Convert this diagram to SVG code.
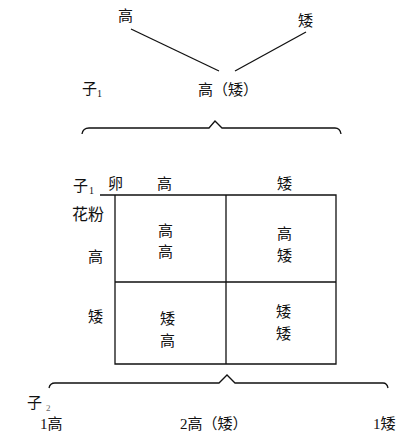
<svg xmlns="http://www.w3.org/2000/svg" width="412" height="436" viewBox="0 0 412 436">
<style>
text{font-family:"Liberation Serif","Noto Sans CJK SC",serif;font-size:15px;fill:#111}
.sub{font-size:10px}
.ln{stroke:#111;stroke-width:1.3;fill:none}
</style>
<rect width="412" height="436" fill="#fff"/>
<g id="parents">
<text x="118" y="21">高</text>
<text x="298" y="26">矮</text>
</g>
<g id="f1">
<text x="82" y="94">子</text><text class="sub" x="97" y="97">1</text>
<text x="198" y="95">高（矮）</text>
</g>
<g id="connectors">
<line class="ln" x1="131" y1="29" x2="219" y2="71"/>
<line class="ln" x1="306" y1="32" x2="235" y2="71"/>
<path class="ln" d="M82,134 Q83,128 89,128 L209,128 L215,121 L222,128 L335,128 Q340,128 341,134"/>
<path class="ln" d="M49,388 Q50,383 55,383 L219,383 L227,375 L235,383 L383,383 Q387,383 388,388"/>
</g>
<g id="grid">
<path class="ln" d="M100,195 L336,195 L336,364 L115,364 L115,195 M226,195 L226,364 M115,282 L336,282"/>
</g>
<g id="headers">
<text x="73" y="191">子</text><text class="sub" x="89" y="194">1</text>
<text x="108" y="189">卵</text>
<text x="157" y="189">高</text>
<text x="277" y="189">矮</text>
<text x="72" y="220" style="font-size:16px">花粉</text>
<text x="88" y="262">高</text>
<text x="88" y="322">矮</text>
</g>
<g id="cells">
<text x="158" y="236">高</text><text x="158" y="257">高</text>
<text x="277" y="239">高</text><text x="277" y="261">矮</text>
<text x="160" y="324">矮</text><text x="160" y="346">高</text>
<text x="276" y="317">矮</text><text x="276" y="339">矮</text>
</g>
<g id="f2">
<text x="27" y="408">子</text><text class="sub" x="46" y="411" style="font-size:9px;fill:#666">2</text>
<text x="40" y="429">1高</text>
<text x="180" y="429">2高（矮）</text>
<text x="373" y="429">1矮</text>
</g>
</svg>
